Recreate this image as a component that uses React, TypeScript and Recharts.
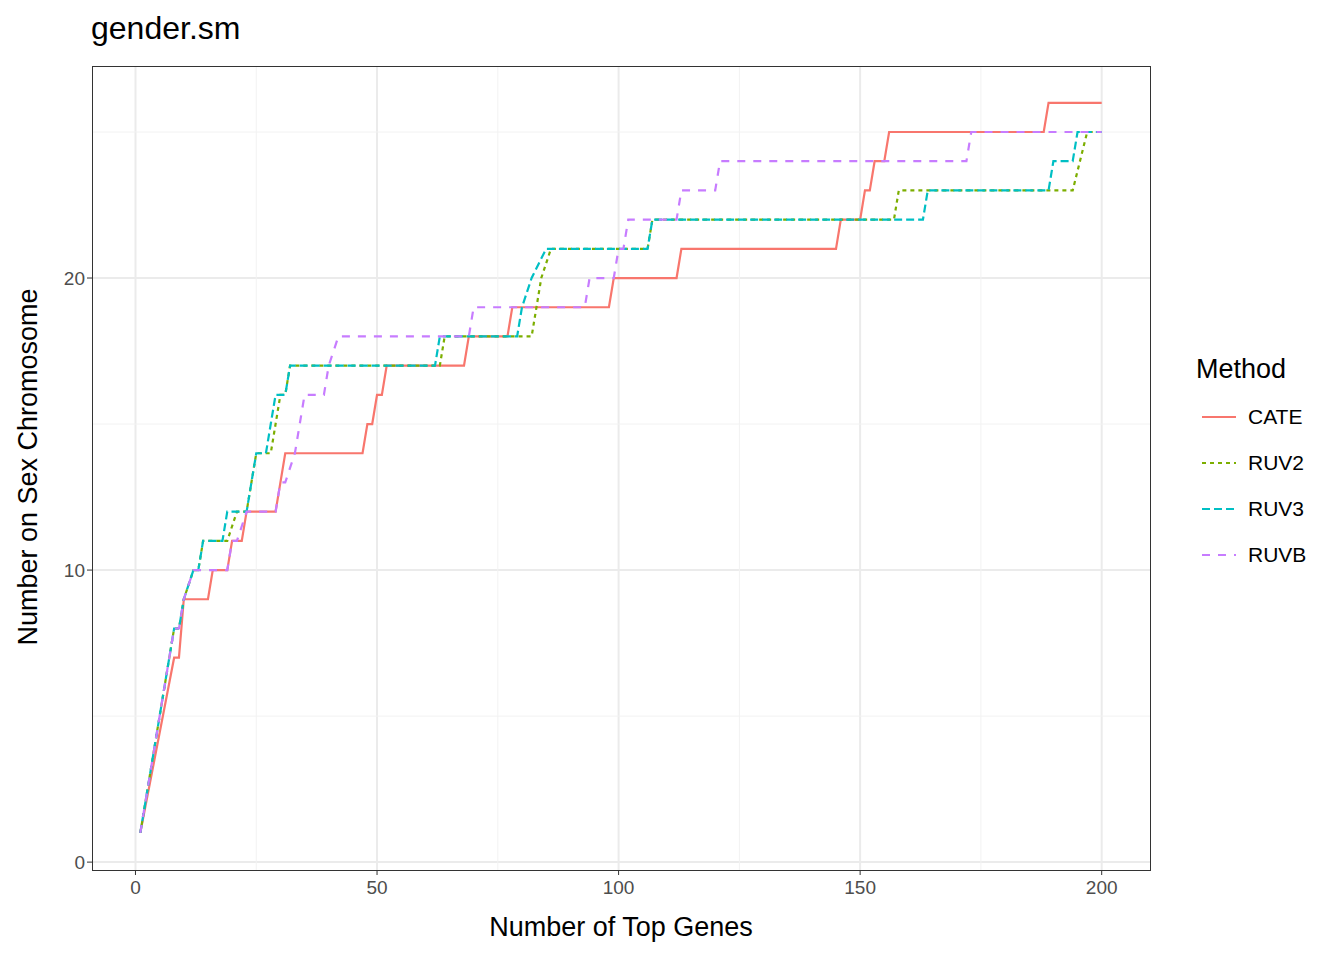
import React from "react";
import { LineChart, Line, XAxis, YAxis, CartesianGrid, ReferenceLine } from "recharts";

const xTicks = [0, 50, 100, 150, 200];
const yTicks = [0, 10, 20];
const xMinor = [25, 75, 125, 175];
const yMinor = [5, 15, 25];

const cate: [number, number][] = [[1,1],[8,7],[9,7],[10,9],[15,9],[16,10],[19,10],[20,11],[22,11],[23,12],[29,12],[31,14],[47,14],[48,15],[49,15],[50,16],[51,16],[52,17],[68,17],[69,18],[77,18],[78,19],[98,19],[99,20],[112,20],[113,21],[145,21],[146,22],[150,22],[151,23],[152,23],[153,24],[155,24],[156,25],[188,25],[189,26],[200,26]];
const ruv2: [number, number][] = [[1,1],[7,7],[8,8],[9,8],[10,9],[12,10],[13,10],[14,11],[19,11],[21,12],[23,12],[25,14],[28,14],[30,16],[31,16],[32,17],[63,17],[64,18],[82,18],[83,19],[84,20],[86,21],[106,21],[107,22],[157,22],[158,23],[194,23],[197,25],[200,25]];
const ruv3: [number, number][] = [[1,1],[7,7],[8,8],[9,8],[10,9],[12,10],[13,10],[14,11],[18,11],[19,12],[23,12],[24,13],[25,14],[27,14],[28,15],[29,16],[31,16],[32,17],[62,17],[63,18],[79,18],[80,19],[82,20],[85,21],[106,21],[107,22],[163,22],[164,23],[189,23],[190,24],[194,24],[195,25],[200,25]];
const ruvb: [number, number][] = [[1,1],[7,7],[8,8],[9,8],[10,9],[12,10],[19,10],[20,11],[21,11],[23,12],[29,12],[30,13],[31,13],[33,14],[34,15],[35,16],[39,16],[40,17],[42,18],[69,18],[70,19],[93,19],[94,20],[99,20],[100,21],[101,21],[102,22],[112,22],[113,23],[120,23],[121,24],[172,24],[173,25],[200,25]];

const toRows = (pts: [number, number][]) => pts.map(([x, y]) => ({ x, y }));

const series = [
  { name: "CATE", pts: cate, color: "#F8766D", dash: undefined as string | undefined },
  { name: "RUV2", pts: ruv2, color: "#7CAE00", dash: "4 4" },
  { name: "RUV3", pts: ruv3, color: "#00BFC4", dash: "8 4" },
  { name: "RUVB", pts: ruvb, color: "#C77CFF", dash: "8 8" },
];

const font = "'Liberation Sans', Arial, sans-serif";

export default function App() {
  return (
    <div style={{ position: "absolute", left: 0, top: 0, width: 1344, height: 960, background: "#fff", fontFamily: font }}>
      <LineChart width={1344} height={960} margin={{ top: 66, right: 194, bottom: 50, left: 42 }}>
        <CartesianGrid stroke="#EBEBEB" strokeWidth={2} horizontalValues={yTicks} verticalValues={xTicks} />
        {xMinor.map((v) => <ReferenceLine key={"x" + v} x={v} stroke="#F2F2F2" strokeWidth={1} />)}
        {yMinor.map((v) => <ReferenceLine key={"y" + v} y={v} stroke="#F2F2F2" strokeWidth={1} />)}
        <XAxis type="number" dataKey="x" domain={[-9, 210]} ticks={xTicks} allowDuplicatedCategory={false}
          height={40} tick={{ fill: "#4D4D4D", fontSize: 19, fontFamily: font }} tickSize={5} tickMargin={6}
          axisLine={false} tickLine={{ stroke: "#333" }} />
        <YAxis type="number" domain={[-0.27, 27.26]} ticks={yTicks} width={50}
          tick={{ fill: "#4D4D4D", fontSize: 19, fontFamily: font }} tickSize={5}
          axisLine={false} tickLine={{ stroke: "#333" }} />
        {series.map((s) => (
          <Line key={s.name} data={toRows(s.pts)} dataKey="y" type="linear" stroke={s.color}
            strokeWidth={2.2} strokeDasharray={s.dash} dot={false} isAnimationActive={false} />
        ))}
      </LineChart>
      <div style={{ position: "absolute", left: 92, top: 66, width: 1057, height: 803, border: "1.5px solid #333", pointerEvents: "none" }} />
      <div style={{ position: "absolute", left: 91, top: 10, fontSize: 32, color: "#000" }}>gender.sm</div>
      <div style={{ position: "absolute", left: 92, width: 1058, top: 912, textAlign: "center", fontSize: 27 }}>Number of Top Genes</div>
      <div style={{ position: "absolute", left: 28, top: 467, transform: "translate(-50%,-50%) rotate(-90deg)", whiteSpace: "nowrap", fontSize: 27 }}>Number on Sex Chromosome</div>
      <div style={{ position: "absolute", left: 1196, top: 354, fontSize: 27 }}>Method</div>
      {series.map((s, i) => (
        <div key={s.name} style={{ position: "absolute", left: 1200, top: 400 + i * 46, height: 34, display: "flex", alignItems: "center" }}>
          <svg width={38} height={34}>
            <line x1={2} x2={36} y1={17} y2={17} stroke={s.color} strokeWidth={2.2} strokeDasharray={s.dash} />
          </svg>
          <span style={{ marginLeft: 10, fontSize: 21 }}>{s.name}</span>
        </div>
      ))}
    </div>
  );
}
